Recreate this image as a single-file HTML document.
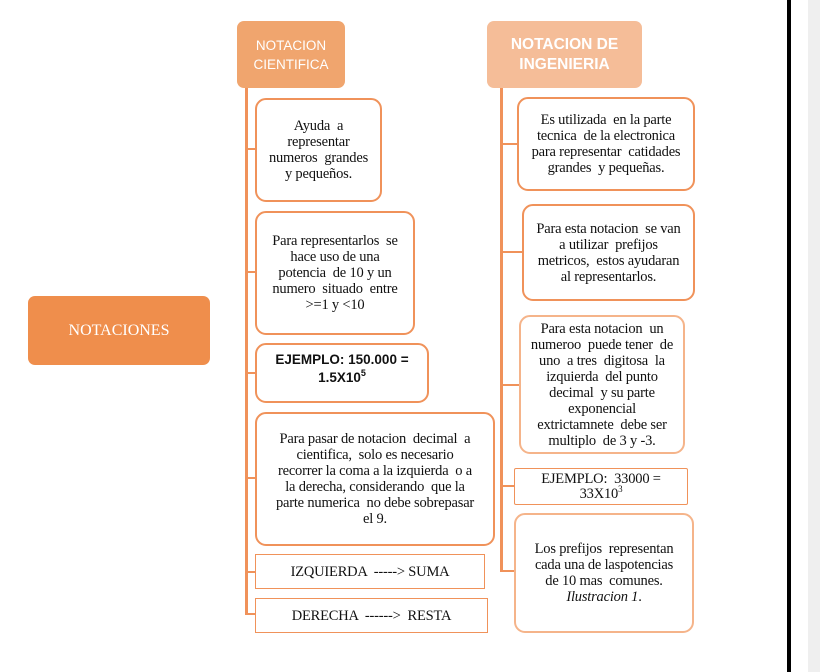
<!DOCTYPE html>
<html><head><meta charset="utf-8"><style>
body{margin:0;width:820px;height:672px;background:#fff;position:relative;overflow:hidden;font-family:"Liberation Serif",serif;}
.b{position:absolute;box-sizing:border-box;border:2px solid #f0925a;border-radius:11px;background:#fff;display:flex;align-items:center;justify-content:center;text-align:center;font-size:14.5px;line-height:16px;color:#111;padding:0;white-space:nowrap;letter-spacing:-0.2px}
.l{position:absolute;background:#f0925a;}
.h{position:absolute;border-radius:7px;color:#fff;display:flex;align-items:center;justify-content:center;text-align:center;font-family:"Liberation Sans",sans-serif;}
sup{font-size:9px;line-height:0;vertical-align:6px}
</style></head><body>
<div class="l" style="left:245px;top:88px;width:3px;height:526px"></div>
<div class="l" style="left:500px;top:88px;width:3px;height:484px"></div>
<div class="l" style="left:245px;top:148px;width:12px;height:2px"></div>
<div class="l" style="left:245px;top:271px;width:12px;height:2px"></div>
<div class="l" style="left:245px;top:372px;width:12px;height:2px"></div>
<div class="l" style="left:245px;top:477px;width:12px;height:2px"></div>
<div class="l" style="left:245px;top:571px;width:12px;height:2px"></div>
<div class="l" style="left:245px;top:613px;width:12px;height:2px"></div>
<div class="l" style="left:500px;top:143px;width:18px;height:2px"></div>
<div class="l" style="left:500px;top:251px;width:24px;height:2px"></div>
<div class="l" style="left:500px;top:384px;width:20px;height:2px"></div>
<div class="l" style="left:500px;top:485px;width:16px;height:2px"></div>
<div class="l" style="left:500px;top:570px;width:16px;height:2px"></div>

<div class="h" style="left:28px;top:296px;width:182px;height:69px;background:#ef8e4c;font-family:'Liberation Serif',serif;font-size:16px;">NOTACIONES</div>
<div class="h" style="left:237px;top:21px;width:108px;height:67px;background:#f0a56e;font-size:13.5px;line-height:19px;"><span>NOTACION<br>CIENTIFICA</span></div>
<div class="h" style="left:487px;top:21px;width:155px;height:67px;background:#f5bd98;font-size:15.5px;line-height:20px;font-weight:bold;"><span>NOTACION DE<br>INGENIERIA</span></div>

<div class="b" style="left:255px;top:98px;width:127px;height:104px"><span>Ayuda &nbsp;a<br>representar<br>numeros &nbsp;grandes<br>y pequeños.</span></div>
<div class="b" style="left:255px;top:211px;width:160px;height:124px"><span>Para representarlos &nbsp;se<br>hace uso de una<br>potencia &nbsp;de 10 y un<br>numero &nbsp;situado &nbsp;entre<br>&gt;=1 y &lt;10</span></div>
<div class="b" style="left:255px;top:343px;width:174px;height:60px;font-family:'Liberation Sans',sans-serif;font-weight:bold;font-size:13.5px;line-height:18px;align-items:flex-start;padding-top:6px;letter-spacing:0"><span>EJEMPLO: 150.000 =<br>1.5X10<sup>5</sup></span></div>
<div class="b" style="left:255px;top:412px;width:240px;height:134px"><span>Para pasar de notacion &nbsp;decimal &nbsp;a<br>cientifica, &nbsp;solo es necesario<br>recorrer la coma a la izquierda &nbsp;o a<br>la derecha, considerando &nbsp;que la<br>parte numerica &nbsp;no debe sobrepasar<br>el 9.</span></div>
<div class="b" style="left:255px;top:554px;width:230px;height:35px;border-radius:0;border-width:1.5px">IZQUIERDA &nbsp;-----&gt; SUMA</div>
<div class="b" style="left:255px;top:598px;width:233px;height:35px;border-radius:0;border-width:1.5px">DERECHA &nbsp;------&gt; &nbsp;RESTA</div>

<div class="b" style="left:517px;top:97px;width:178px;height:94px"><span>Es utilizada &nbsp;en la parte<br>tecnica &nbsp;de la electronica<br>para representar &nbsp;catidades<br>grandes &nbsp;y pequeñas.</span></div>
<div class="b" style="left:522px;top:204px;width:173px;height:97px"><span>Para esta notacion &nbsp;se van<br>a utilizar &nbsp;prefijos<br>metricos, &nbsp;estos ayudaran<br>al representarlos.</span></div>
<div class="b" style="left:519px;top:315px;width:166px;height:139px;border-color:#f5b48a"><span>Para esta notacion &nbsp;un<br>numeroo &nbsp;puede tener &nbsp;de<br>uno &nbsp;a tres &nbsp;digitosa &nbsp;la<br>izquierda &nbsp;del punto<br>decimal &nbsp;y su parte<br>exponencial<br>extrictamnete &nbsp;debe ser<br>multiplo &nbsp;de 3 y -3.</span></div>
<div class="b" style="left:514px;top:468px;width:174px;height:37px;border-radius:2px;border-width:1.5px;line-height:15px"><span>EJEMPLO: &nbsp;33000 =<br>33X10<sup>3</sup></span></div>
<div class="b" style="left:514px;top:513px;width:180px;height:120px;border-color:#f5b48a"><span>Los prefijos &nbsp;representan<br>cada una de laspotencias<br>de 10 mas &nbsp;comunes.<br><i>Ilustracion 1</i>.</span></div>

<div style="position:absolute;left:787px;top:0;width:4px;height:672px;background:#000"></div>
<div style="position:absolute;left:808px;top:0;width:12px;height:672px;background:#efefef"></div>
</body></html>
